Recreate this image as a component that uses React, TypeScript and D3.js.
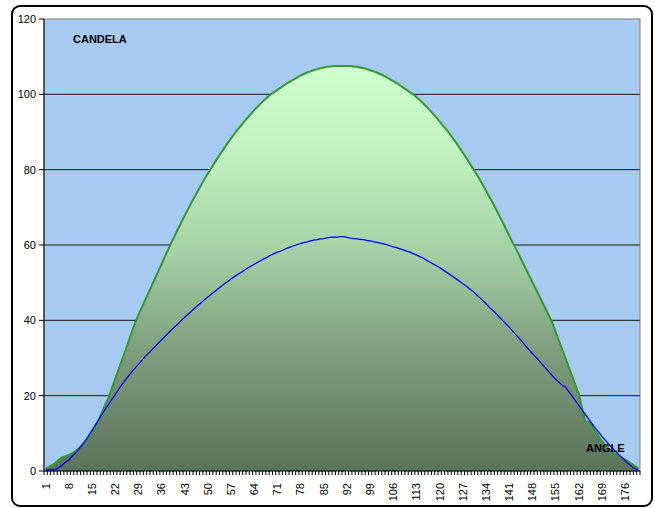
import React from 'react';
import * as d3 from 'd3';

const categories: number[] = d3.range(1, 181);

const outerCandela: number[] = [
  0.7, 1.1, 1.6, 2.2, 3.0, 3.6, 3.9, 4.3, 4.7, 5.3,
  6.0, 6.9, 7.8, 9.0, 10.3, 11.8, 13.6, 15.6, 17.6, 19.5,
  22.0, 24.4, 26.9, 29.4, 31.8, 34.3, 36.8, 39.3, 41.4, 43.3,
  45.3, 47.2, 49.1, 51.1, 53.0, 54.9, 56.9, 58.8, 60.7, 62.5,
  64.3, 66.1, 67.8, 69.5, 71.2, 72.8, 74.4, 76.0, 77.5, 79.0,
  80.4, 81.8, 83.2, 84.5, 85.8, 87.1, 88.3, 89.5, 90.6, 91.7,
  92.8, 93.8, 94.8, 95.8, 96.7, 97.6, 98.4, 99.2, 100.0, 100.6,
  101.2, 101.8, 102.4, 103.0, 103.5, 104.0, 104.5, 105.0, 105.4, 105.8,
  106.1, 106.4, 106.7, 106.9, 107.1, 107.3, 107.4, 107.5, 107.5, 107.5,
  107.5, 107.5, 107.5, 107.4, 107.3, 107.1, 106.9, 106.7, 106.4, 106.1,
  105.8, 105.4, 105.0, 104.5, 104.0, 103.5, 103.0, 102.4, 101.8, 101.2,
  100.6, 100.0, 99.2, 98.4, 97.6, 96.7, 95.8, 94.8, 93.8, 92.8,
  91.7, 90.6, 89.5, 88.3, 87.1, 85.8, 84.5, 83.2, 81.8, 80.4,
  79.0, 77.5, 76.0, 74.4, 72.8, 71.2, 69.5, 67.8, 66.1, 64.3,
  62.5, 60.7, 59.1, 57.3, 55.5, 53.7, 51.9, 50.1, 48.4, 46.6,
  44.8, 43.0, 41.2, 39.4, 37.0, 34.6, 32.3, 29.9, 27.6, 25.2,
  22.8, 20.5, 16.8, 13.2, 13.0, 11.9, 10.6, 9.3, 8.0, 6.8,
  5.9, 5.1, 4.5, 3.9, 3.5, 3.0, 2.5, 1.9, 1.3, 0.7,
];

const innerCandela: number[] = [
  0.3, 0.3, 0.3, 0.4, 0.9, 1.6, 2.3, 3.0, 3.9, 4.8,
  5.8, 6.9, 8.1, 9.4, 10.8, 12.2, 13.6, 15.0, 16.4, 17.7,
  19.0, 20.3, 21.6, 22.9, 24.1, 25.2, 26.3, 27.3, 28.3, 29.3,
  30.3, 31.2, 32.1, 33.0, 33.9, 34.8, 35.7, 36.6, 37.5, 38.3,
  39.1, 40.0, 40.8, 41.6, 42.4, 43.2, 44.0, 44.7, 45.5, 46.2,
  46.9, 47.6, 48.3, 49.0, 49.7, 50.3, 51.0, 51.6, 52.2, 52.7,
  53.3, 53.9, 54.4, 54.9, 55.4, 55.9, 56.4, 56.8, 57.3, 57.7,
  58.1, 58.4, 58.8, 59.2, 59.5, 59.8, 60.1, 60.4, 60.6, 60.8,
  61.1, 61.3, 61.4, 61.6, 61.7, 61.9, 62.0, 62.1, 62.1, 62.2,
  62.2, 62.0, 61.8, 61.7, 61.6, 61.5, 61.4, 61.2, 61.1, 60.9,
  60.7, 60.5, 60.3, 60.1, 59.8, 59.5, 59.3, 59.0, 58.7, 58.4,
  58.1, 57.7, 57.3, 56.9, 56.5, 56.0, 55.5, 55.0, 54.5, 54.0,
  53.4, 52.8, 52.2, 51.6, 51.0, 50.4, 49.7, 49.1, 48.4, 47.7,
  46.9, 46.1, 45.3, 44.4, 43.5, 42.7, 41.8, 40.9, 40.0, 39.1,
  38.2, 37.2, 36.2, 35.2, 34.2, 33.2, 32.2, 31.2, 30.3, 29.3,
  28.3, 27.3, 26.3, 25.3, 24.4, 23.6, 22.8, 22.3, 21.1, 19.9,
  18.6, 17.4, 16.2, 15.0, 13.8, 12.6, 11.4, 10.3, 9.2, 8.2,
  7.2, 6.2, 5.3, 4.4, 3.6, 2.8, 2.0, 1.2, 0.6, 0.3,
];

const yTicks: number[] = [0, 20, 40, 60, 80, 100, 120];
const labelInterval = 7;
const yTitle = 'CANDELA';
const xTitle = 'ANGLE';

const W = 655;
const H = 508;
const PL = 44;
const PR = 640;
const PT = 19;
const PB = 471;
const FONT = 'Arial, "Liberation Sans", Helvetica, sans-serif';

export default function App() {
  const x = d3.scalePoint<number>().domain(categories).range([PL, PR]).padding(0.5);
  const y = d3.scaleLinear().domain([0, 120]).range([PB, PT]);
  const step = x.step();

  const area = d3
    .area<number>()
    .x((_, i) => x(categories[i]) as number)
    .y0(y(0))
    .y1((d) => y(d));
  const outerLine = d3
    .line<number>()
    .x((_, i) => x(categories[i]) as number)
    .y((d) => y(d));
  const innerLine = d3
    .line<number>()
    .x((_, i) => x(categories[i]) as number)
    .y((d) => y(d));

  const tickPositions = d3.range(categories.length + 1).map((k) => PL + k * step);
  const labelCats = categories.filter((_, i) => i % labelInterval === 0);

  return (
    <svg
      width={W}
      height={H}
      style={{ position: 'absolute', left: 0, top: 0, background: '#ffffff' }}
      fontFamily={FONT}
    >
      <rect x={12} y={6} width={640} height={500} rx={8} ry={8} fill="#ffffff" stroke="#000000" strokeWidth={2} />
      <defs>
        <linearGradient id="greenFill" x1="0" y1="0" x2="0" y2="1">
          <stop offset="0" stopColor="#CCFFCC" />
          <stop offset="0.2" stopColor="#C2F2C2" />
          <stop offset="0.45" stopColor="#A6D2A6" />
          <stop offset="0.7" stopColor="#7F9F7F" />
          <stop offset="1" stopColor="#5A725A" />
        </linearGradient>
      </defs>
      {/* plot area */}
      <rect x={PL} y={PT} width={PR - PL} height={PB - PT} fill="#A6CAF0" stroke="#808080" strokeWidth={1} />
      {/* gridlines */}
      {yTicks
        .filter((t) => t > 0 && t < 120)
        .map((t) => (
          <line key={'g' + t} x1={PL} x2={PR} y1={y(t)} y2={y(t)} stroke="#1a1a1a" strokeWidth={1} />
        ))}
      {/* area */}
      <path d={area(outerCandela) || ''} fill="url(#greenFill)" />
      <path d={outerLine(outerCandela) || ''} fill="none" stroke="#339933" strokeWidth={2} strokeLinejoin="round" />
      <path d={innerLine(innerCandela) || ''} fill="none" stroke="#0000FF" strokeWidth={1.3} strokeLinejoin="round" />
      {/* axes */}
      <line x1={PL} x2={PL} y1={PT} y2={PB} stroke="#000" strokeWidth={1} />
      <line x1={PL} x2={PR} y1={PB} y2={PB} stroke="#000" strokeWidth={1} />
      {yTicks.map((t) => (
        <g key={'y' + t}>
          <line x1={PL - 5} x2={PL} y1={y(t)} y2={y(t)} stroke="#000" strokeWidth={1} />
          <text x={36} y={y(t)} dy="0.35em" textAnchor="end" fontSize={11} fill="#000">
            {t}
          </text>
        </g>
      ))}
      {tickPositions.map((p, k) => (
        <line key={'xt' + k} x1={p} x2={p} y1={PB} y2={PB + 4} stroke="#000" strokeWidth={1} />
      ))}
      {labelCats.map((c) => (
        <text
          key={'xl' + c}
          transform={`translate(${x(c)},483) rotate(-90)`}
          dy="0.35em"
          textAnchor="end"
          fontSize={11}
          fill="#000"
        >
          {c}
        </text>
      ))}
      <text x={73} y={43} fontSize={11} fontWeight="bold" fill="#000">
        {yTitle}
      </text>
      <text x={586} y={452} fontSize={11} fontWeight="bold" fill="#000">
        {xTitle}
      </text>
    </svg>
  );
}
